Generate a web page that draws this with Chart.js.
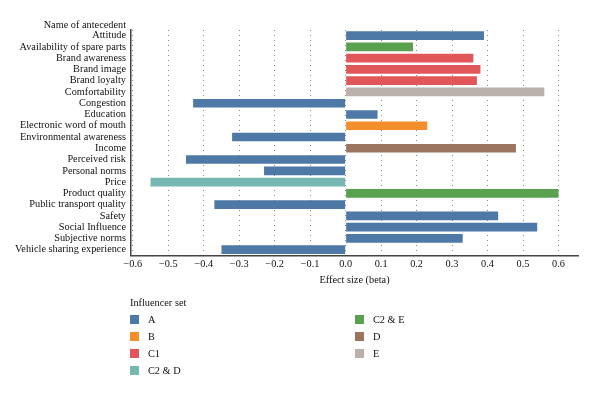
<!DOCTYPE html>
<html>
<head>
<meta charset="utf-8">
<script src="https://cdn.jsdelivr.net/npm/chart.js@4/dist/chart.umd.min.js"></script>
<style>
  html, body { margin: 0; padding: 0; background: #fff; }
  #wrap { position: relative; width: 600px; height: 397px; }
  #c { position: absolute; left: 0; top: 0; }
  #legend { position: absolute; left: 130px; top: 297px; font-family: "Liberation Serif", serif; font-size: 10.3px; color: #111; }
  #legend .ttl { position: absolute; left: 0; top: 0; white-space: nowrap; }
  #legend .item { position: absolute; white-space: nowrap; height: 12px; line-height: 12px; }
  #legend .sw { display: inline-block; width: 9px; height: 9px; vertical-align: middle; margin-right: 9px; position: relative; top: -1px; }
</style>
</head>
<body>
<div id="wrap">
  <canvas id="c" width="600" height="397"></canvas>
  <div id="legend"></div>
</div>
<script>
const axisHeading = "Name of antecedent";
const categories = [
  "Attitude", "Availability of spare parts", "Brand awareness", "Brand image",
  "Brand loyalty", "Comfortability", "Congestion", "Education",
  "Electronic word of mouth", "Environmental awareness", "Income", "Perceived risk",
  "Personal norms", "Price", "Product quality", "Public transport quality",
  "Safety", "Social Influence", "Subjective norms", "Vehicle sharing experience"
];
const effectSizes = [
  0.39, 0.19, 0.36, 0.38,
  0.37, 0.56, -0.43, 0.09,
  0.23, -0.32, 0.48, -0.45,
  -0.23, -0.55, 0.60, -0.37,
  0.43, 0.54, 0.33, -0.35
];
const influencerSet = [
  "A", "C2 & E", "C1", "C1",
  "C1", "E", "A", "A",
  "B", "A", "D", "A",
  "A", "C2 & D", "C2 & E", "A",
  "A", "A", "A", "A"
];
const setNames = ["A", "B", "C1", "C2 & D", "C2 & E", "D", "E"];
const setColors = ["#4e79a7", "#f28e2b", "#e15759", "#76b7b2", "#59a14f", "#9c755f", "#bab0ac"];
const xTicks = [-0.6, -0.5, -0.4, -0.3, -0.2, -0.1, 0.0, 0.1, 0.2, 0.3, 0.4, 0.5, 0.6];
const xTitle = "Effect size (beta)";
const legendTitle = "Influencer set";

const FONT = "'Liberation Serif', serif";
const FS = 10.3;
const barColors = influencerSet.map(s => setColors[setNames.indexOf(s)]);

const headingPlugin = {
  id: 'heading',
  afterDraw(chart) {
    const ctx = chart.ctx;
    const ys = chart.scales.y;
    ctx.save();
    ctx.font = FS + "px " + FONT;
    ctx.fillStyle = "#111";
    ctx.textAlign = "right";
    ctx.textBaseline = "middle";
    ctx.fillText(axisHeading, ys.right - 5, chart.chartArea.top - 5);
    ctx.restore();
  }
};

new Chart(document.getElementById('c'), {
  type: 'bar',
  data: {
    labels: categories,
    datasets: [{
      data: effectSizes,
      backgroundColor: barColors,
      borderWidth: 0,
      barPercentage: 0.77,
      categoryPercentage: 1.0
    }]
  },
  options: {
    indexAxis: 'y',
    responsive: false,
    animation: false,
    devicePixelRatio: 1,
    layout: { padding: { top: 30, right: 22, bottom: 111, left: 0 } },
    plugins: { legend: { display: false }, tooltip: { enabled: false } },
    scales: {
      x: {
        type: 'linear',
        min: -0.605,
        max: 0.655,
        afterBuildTicks(scale) { scale.ticks = xTicks.map(v => ({ value: v })); },
        ticks: {
          color: "#111",
          font: { family: FONT, size: FS },
          padding: 3,
          maxRotation: 0,
          callback: v => (v < 0 ? "\u2212" : "") + Math.abs(v).toFixed(1)
        },
        grid: {
          display: true,
          drawTicks: false,
          color: "#888",
          lineWidth: 1
        },
        border: { display: true, color: "#444", width: 1.5, dash: [1, 4] },
        title: { display: true, text: xTitle, color: "#111", font: { family: FONT, size: FS }, padding: { top: 0, bottom: 0 } }
      },
      y: {
        type: 'category',
        afterFit(scale) { scale.width = 131; },
        ticks: { color: "#111", font: { family: FONT, size: FS }, padding: 5, autoSkip: false },
        grid: { display: false, drawTicks: false },
        border: { display: true, color: "#444", width: 1.5 }
      }
    }
  },
  plugins: [headingPlugin]
});

// HTML legend in two columns
const legend = document.getElementById('legend');
const t = document.createElement('div');
t.className = 'ttl';
t.textContent = legendTitle;
legend.appendChild(t);
const perCol = 4;
setNames.forEach((name, i) => {
  const col = Math.floor(i / perCol), row = i % perCol;
  const d = document.createElement('div');
  d.className = 'item';
  d.style.left = (col * 225) + 'px';
  d.style.top = (17 + row * 17) + 'px';
  const sw = document.createElement('span');
  sw.className = 'sw';
  sw.style.background = setColors[i];
  d.appendChild(sw);
  d.appendChild(document.createTextNode(name));
  legend.appendChild(d);
});
</script>
</body>
</html>
